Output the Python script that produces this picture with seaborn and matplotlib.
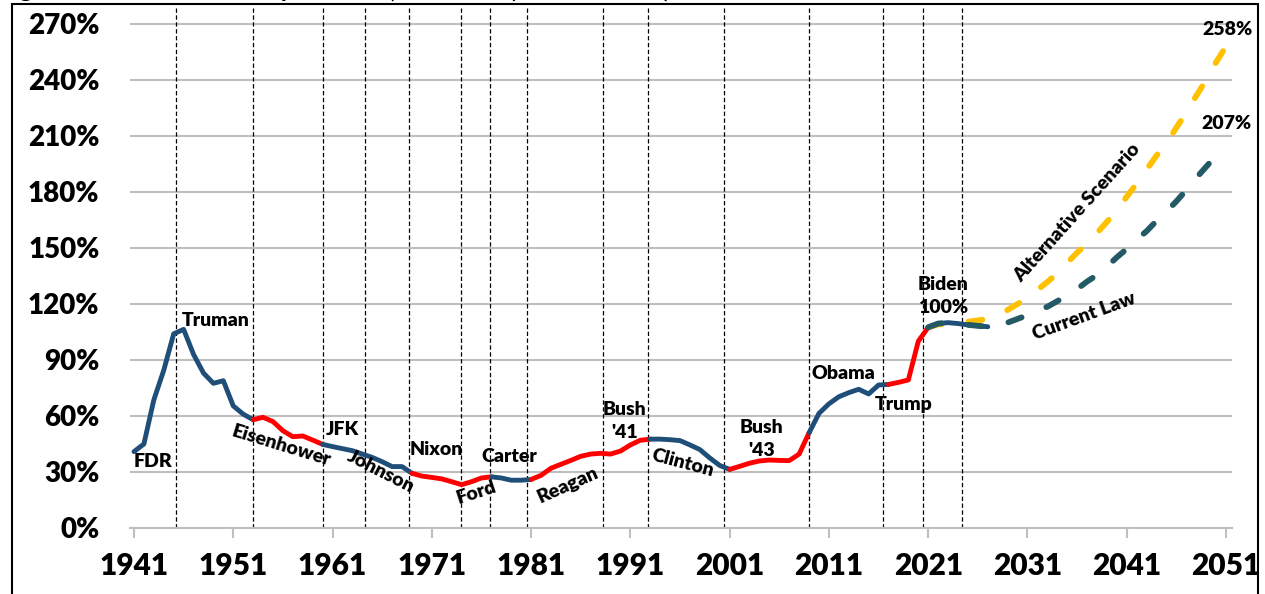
import matplotlib

matplotlib.use("Agg")
import matplotlib.pyplot as plt
import pandas as pd
import seaborn as sns
from matplotlib.patches import Rectangle

TITLE = "Figure 1: Federal Debt Held by the Public, 1941-2051 (Percent of GDP)"

# Debt held by the public, % of GDP
HIST_YEARS = list(range(1941, 2028))
HIST_VALUES = [
    40.9, 45.0, 68.6, 84.5, 104.0, 106.4, 93.0, 83.0, 77.5, 78.9,   # 1941-1950
    65.4, 61.0, 58.0, 59.3, 57.0, 52.1, 48.9, 49.3, 47.1, 44.8,     # 1951-1960
    43.6, 42.5, 41.4, 39.6, 37.8, 35.5, 32.9, 32.9, 29.3, 27.8,     # 1961-1970
    27.1, 26.3, 24.8, 23.2, 24.8, 26.8, 27.4, 26.8, 25.6, 25.6,     # 1971-1980
    26.0, 28.2, 32.0, 34.1, 36.2, 38.4, 39.6, 40.0, 39.6, 41.2,     # 1981-1990
    44.5, 47.0, 47.6, 47.6, 47.3, 46.8, 44.5, 42.0, 37.5, 33.5,     # 1991-2000
    31.4, 33.0, 34.7, 35.9, 36.4, 36.2, 36.1, 39.6, 51.0, 61.4,     # 2001-2010
    66.5, 70.3, 72.5, 74.3, 71.8, 76.6, 76.9, 78.0, 79.3, 100.0,    # 2011-2020
    107.5, 109.5, 110.0, 109.5, 108.8, 108.3, 107.8,                # 2021-2027
]

PROJ_YEARS = list(range(2021, 2052))
CURRENT_LAW = [
    107.5, 109.5, 110.0, 109.5, 108.8, 108.3, 107.8, 108.8, 110.0, 112.0,
    114.0, 116.5, 118.5, 121.5, 124.5, 128.0, 132.0, 135.5, 140.0, 145.0,
    149.5, 154.5, 159.0, 164.5, 169.5, 175.0, 181.0, 187.5, 193.5, 199.5,
    206.0,
]
ALTERNATIVE = [
    107.5, 109.0, 109.5, 109.8, 110.5, 111.2, 112.0, 114.0, 116.8, 120.0,
    123.3, 127.5, 131.8, 136.3, 142.0, 147.5, 152.3, 158.0, 164.0, 170.0,
    177.5, 184.5, 192.0, 199.5, 206.0, 214.5, 222.5, 231.5, 240.0, 249.5,
    258.0,
]

# party control segments (first year, last year, party)
TERMS = [
    (1941, 1953, "D"), (1953, 1960, "R"), (1960, 1969, "D"), (1969, 1977, "R"),
    (1977, 1981, "D"), (1981, 1993, "R"), (1993, 2001, "D"), (2001, 2009, "R"),
    (2009, 2017, "D"), (2017, 2021, "R"), (2021, 2027, "D"),
]
PARTY_COLORS = {"D": "#1F4E79", "R": "#FF0000"}

# presidential transitions (dashed vertical lines)
TRANSITIONS = [1945.2, 1953.0, 1960.0, 1964.3, 1968.7, 1973.9, 1976.9, 1980.6,
               1988.2, 1992.8, 2000.4, 2009.0, 2016.4, 2020.5, 2024.4]

X_TICKS = list(range(1941, 2052, 10))
Y_TICKS = list(range(0, 271, 30))

LABELS = [
    ("FDR", 1942.9, 35.5, 0),
    ("Truman", 1949.2, 111.4, 0),
    ("Eisenhower", 1955.8, 44.1, -17),
    ("JFK", 1962.0, 52.5, 0),
    ("Johnson", 1965.9, 30.2, -27),
    ("Nixon", 1971.4, 41.8, 0),
    ("Ford", 1975.5, 19.1, 18),
    ("Carter", 1978.8, 38.2, 0),
    ("Reagan", 1984.7, 23.0, 24),
    ("Bush\n'41", 1990.4, 57.3, 0),
    ("Clinton", 1996.25, 35.0, -15),
    ("Bush\n'43", 2004.2, 47.8, 0),
    ("Obama", 2012.5, 82.5, 0),
    ("Trump", 2018.55, 65.9, 0),
    ("Biden\n100%", 2022.5, 124.4, 0),
    ("Alternative Scenario", 2036.0, 169.1, 48),
    ("Current Law", 2036.7, 113.2, 20),
    ("258%", 2051.1, 267.1, 0),
    ("207%", 2051.05, 216.4, 0),
]

plt.rcParams["font.family"] = ["Lato", "DejaVu Sans"]
plt.rcParams["font.weight"] = "heavy"

hist = pd.DataFrame({"year": HIST_YEARS, "debt": HIST_VALUES})
proj = pd.DataFrame({"year": PROJ_YEARS, "current": CURRENT_LAW, "alt": ALTERNATIVE})

fig = plt.figure(figsize=(12.65, 5.94), dpi=100)
ax = fig.add_axes([130 / 1265, 66 / 594, 1102 / 1265, 522 / 594])

grey = "#BFBFBF"
for x in TRANSITIONS:
    ax.axvline(x, color="black", lw=0.9, linestyle=(0, (3.5, 2)), zorder=1)

dash = (0, (2.4, 4.6))
sns.lineplot(data=proj, x="year", y="alt", ax=ax, color="#FFC000", linewidth=4.2,
             linestyle=dash, dash_capstyle="round", estimator=None, sort=False, zorder=2)

for start, end, party in TERMS:
    seg = hist[(hist["year"] >= start) & (hist["year"] <= end)]
    sns.lineplot(data=seg, x="year", y="debt", ax=ax, color=PARTY_COLORS[party],
                 linewidth=3.5, solid_capstyle="round", solid_joinstyle="round",
                 estimator=None, sort=False, zorder=3)

sns.lineplot(data=proj, x="year", y="current", ax=ax, color="#245A66", linewidth=4.2,
             linestyle=dash, dash_capstyle="round", estimator=None, sort=False, zorder=4)

for text, x, y, rot in LABELS:
    ax.text(x, y, text, ha="center", va="center", rotation=rot, rotation_mode="anchor",
            fontsize=14, fontweight="heavy", linespacing=1.45, zorder=5, clip_on=False)

ax.set_xlim(1940.6, 2051.6)
ax.set_ylim(0, 279.6)
ax.set_xticks(X_TICKS)
ax.set_xticklabels([str(y) for y in X_TICKS], fontsize=21.5, fontweight="heavy")
ax.set_yticks(Y_TICKS)
ax.set_yticklabels([f"{v}%" for v in Y_TICKS], fontsize=20, fontweight="heavy")
ax.tick_params(axis="x", length=7.2, width=1.5, color=grey, pad=10)
ax.tick_params(axis="y", length=0, pad=22)
ax.yaxis.grid(True, color=grey, lw=1.5, zorder=0)
ax.set_axisbelow(True)
for side in ["left", "top", "right"]:
    ax.spines[side].set_visible(False)
ax.spines["bottom"].set_color(grey)
ax.spines["bottom"].set_linewidth(1.5)
ax.set_xlabel("")
ax.set_ylabel("")

# outer frame and the title sitting above it (cut off at the top, as in the source)
fig.add_artist(Rectangle((11.5 / 1265, -0.05), (1258 - 11.5) / 1265, 1 - 4 / 594 + 0.05,
                         transform=fig.transFigure, fill=False, ec="black", lw=1.5,
                         clip_on=False, zorder=10))
fig.text(0.002, 1 + 1 / 594, TITLE, va="baseline", ha="left", fontsize=15,
         fontweight="heavy")

fig.savefig("out.png", dpi=100)
plt.close(fig)
